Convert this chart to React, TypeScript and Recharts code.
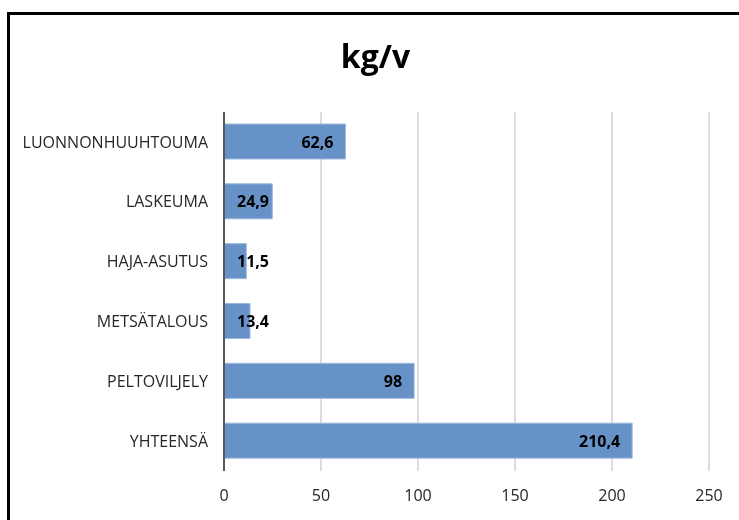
import React from "react";
import { BarChart, Bar, XAxis, YAxis, CartesianGrid, LabelList } from "recharts";

const categories = ["LUONNONHUUHTOUMA", "LASKEUMA", "HAJA-ASUTUS", "METSÄTALOUS", "PELTOVILJELY", "YHTEENSÄ"];
const values = [62.6, 24.9, 11.5, 13.4, 98, 210.4];
const valueLabels = ["62,6", "24,9", "11,5", "13,4", "98", "210,4"];
const xTicks = [0, 50, 100, 150, 200, 250];
const title = "kg/v";

const data = categories.map((c, i) => ({ name: c, value: values[i], label: valueLabels[i] }));

const FONT = "'Open Sans', sans-serif";

const renderLabel = (props: any) => {
  const { x, y, width, height, index } = props;
  const endX = Math.max(x + width - 12, x + 45);
  return (
    <text
      x={endX}
      y={y + height / 2}
      textAnchor="end"
      dominantBaseline="central"
      fontFamily={FONT}
      fontSize={16}
      fontWeight="bold"
      fill="#000"
    >
      {valueLabels[index]}
    </text>
  );
};

export default function App() {
  return (
    <>
      <div
        style={{
          position: "fixed",
          left: 7,
          top: 12,
          width: 800,
          height: 600,
          border: "3px solid #000",
          boxSizing: "border-box",
          background: "#fff",
        }}
      />
      <div style={{ position: "fixed", left: 0, top: 0, width: 739, height: 520 }}>
        <div
          style={{
            position: "absolute",
            left: 0,
            width: 739,
            top: 34,
            textAlign: "center",
            fontFamily: FONT,
            fontWeight: "bold",
            fontSize: 32,
            color: "#000",
            paddingLeft: 12,
            boxSizing: "border-box",
          }}
        >
          {title}
        </div>
        <BarChart
          width={739}
          height={520}
          data={data}
          layout="vertical"
          margin={{ top: 112, right: 30, bottom: 19, left: 0 }}
          barSize={35}
          style={{ position: "absolute", left: 0, top: 0 }}
        >
          <CartesianGrid horizontal={false} stroke="#d0d0d0" strokeWidth={1.5} />
          <XAxis
            type="number"
            domain={[0, 250]}
            ticks={xTicks}
            axisLine={false}
            tickLine={false}
            tickSize={0}
            tickMargin={19}
            height={30}
            interval={0}
            tick={{ fontFamily: FONT, fontSize: 16, fill: "#262626" }}
          />
          <YAxis
            type="category"
            dataKey="name"
            width={224}
            axisLine={{ stroke: "#595959", strokeWidth: 2 }}
            tickLine={false}
            tickSize={0}
            tickMargin={16}
            interval={0}
            tick={{ fontFamily: FONT, fontSize: 16, fill: "#262626" }}
          />
          <Bar dataKey="value" fill="#6792C7" stroke="#9DB8DE" strokeWidth={1} isAnimationActive={false}>
            <LabelList dataKey="label" content={renderLabel} />
          </Bar>
        </BarChart>
      </div>
    </>
  );
}
